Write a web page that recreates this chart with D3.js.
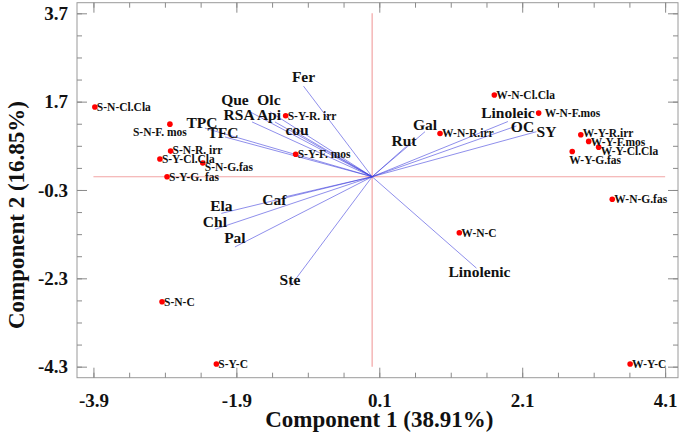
<!DOCTYPE html>
<html>
<head>
<meta charset="utf-8">
<script src="https://cdn.jsdelivr.net/npm/d3@7"></script>
<style>
  body { margin: 0; background: #fff; }
  svg text { font-family: "Liberation Serif", "Times New Roman", serif; font-weight: bold; fill: #111; }
</style>
</head>
<body>
<div id="chart"></div>
<script>
// sample scores
const pointNames = ['S-N-Cl.Cla', 'S-N-F. mos', 'S-N-R. irr', 'S-Y-Cl.Cla', 'S-N-G.fas', 'S-Y-G. fas',
    'S-N-C', 'S-Y-C', 'S-Y-R. irr', 'S-Y-F. mos', 'W-N-Cl.Cla', 'W-N-F.mos', 'W-N-R.irr',
    'W-Y-R.irr', 'W-Y-F.mos', 'W-Y-Cl.Cla', 'W-Y-G.fas', 'W-N-G.fas', 'W-N-C', 'W-Y-C'];
const pointX = [-3.88, -2.83, -2.82, -2.97, -2.37, -2.87, -2.94, -2.18, -1.21, -1.07,
    1.71, 2.33, 0.95, 2.92, 3.03, 3.17, 2.80, 3.36, 1.22, 3.61];
const pointY = [1.58, 1.19, 0.58, 0.40, 0.31, 0.00, -2.83, -4.24, 1.38, 0.51,
    1.85, 1.44, 0.98, 0.95, 0.80, 0.67, 0.57, -0.51, -1.27, -4.24];

// variable loadings (already scaled to score space)
const varNames = ['Fer', 'Que', 'Olc', 'RSA', 'Api', 'cou', 'TPC', 'TFC', 'Rut', 'Gal',
    'Linoleic', 'OC', 'SY', 'Ela', 'Caf', 'Chl', 'Pal', 'Ste', 'Linolenic'];
const varX = [-0.96, -1.71, -1.43, -1.68, -1.36, -1.12, -2.34, -2.06, 0.53, 0.74,
    1.90, 2.02, 2.30, -2.11, -1.20, -2.20, -1.92, -1.15, 1.46];
const varY = [2.05, 1.47, 1.47, 1.24, 1.24, 1.06, 1.10, 0.90, 0.76, 1.02,
    1.25, 1.15, 1.02, -0.83, -0.45, -1.19, -1.59, -2.49, -2.07];

const xTicks = [-3.9, -1.9, 0.1, 2.1, 4.1];
const yTicks = [3.7, 1.7, -0.3, -2.3, -4.3];
const xLabel = 'Component 1 (38.91%)';
const yLabel = 'Component 2 (16.85%)';

// label nudges in pixels (layout only)
const varNudge = {
    'Fer': [0, -4], 'Que': [-15, -7], 'Olc': [-1, -7], 'RSA': [-13, -2], 'Api': [-6, -2],
    'cou': [5, 5], 'TPC': [-3, 0], 'TFC': [-2, 1], 'Rut': [-6, 3], 'Gal': [0, -2],
    'Linoleic': [0, -4], 'OC': [6, 6], 'SY': [10, 5], 'Ela': [0, -2], 'Caf': [-12, 8],
    'Chl': [0, -2], 'Pal': [0, -4], 'Ste': [0, -2], 'Linolenic': [3, 9]
};
const pointNudge = {
    'S-N-F. mos': [-10, 12, 'middle'],
    'S-N-R. irr': [2, 3, 'start'],
    'S-N-G.fas': [2, 7.5, 'start'],
    'W-Y-G.fas': [-3, 12, 'start'],
    'W-N-F.mos': [6, 4, 'start'],
    'W-Y-R.irr': [2, 2, 'start'],
    'W-Y-F.mos': [2, 4.5, 'start'],
    'W-Y-Cl.Cla': [2, 8, 'start']
};

const width = 685, height = 435;
const svg = d3.select('#chart').append('svg')
    .attr('width', width)
    .attr('height', height);

const x = d3.scaleLinear().domain([-4.13, 4.28]).range([77, 678]);
const y = d3.scaleLinear().domain([-4.55, 3.94]).range([377.7, 2.7]);

const minorX = d3.range(-3.9, 4.15, 0.5);
const minorY = d3.range(-4.3, 3.75, 0.5);
const fmt = d => d3.format('.1f')(d).replace('−', '-');

const frameBottom = y.range()[0], frameTop = y.range()[1];
const frameLeft = x.range()[0], frameRight = x.range()[1];

// frame
svg.append('rect')
    .attr('x', frameLeft).attr('y', frameTop)
    .attr('width', frameRight - frameLeft)
    .attr('height', frameBottom - frameTop)
    .attr('fill', 'none').attr('stroke', '#9a9a9a').attr('stroke-width', 1);

function drawAxis(axisFn, scale, transform, values, size, labels) {
    const g = svg.append('g')
        .attr('transform', transform)
        .call(axisFn(scale).tickValues(values).tickSize(-size).tickSizeOuter(0)
            .tickPadding(labels ? 12 : 0)
            .tickFormat(labels ? fmt : ''));
    g.select('.domain').remove();
    g.selectAll('line').attr('stroke', '#8a8a8a');
    return g;
}

drawAxis(d3.axisBottom, x, `translate(0,${frameBottom})`, minorX, 5, false);
drawAxis(d3.axisBottom, x, `translate(0,${frameBottom})`, xTicks, 10, true)
    .selectAll('text').style('font-size', '19px').attr('dy', '0.9em');
drawAxis(d3.axisTop, x, `translate(0,${frameTop})`, minorX, 5, false);
drawAxis(d3.axisTop, x, `translate(0,${frameTop})`, xTicks, 10, false);

drawAxis(d3.axisLeft, y, `translate(${frameLeft},0)`, minorY, 5, false);
drawAxis(d3.axisLeft, y, `translate(${frameLeft},0)`, yTicks, 10, true)
    .selectAll('text').style('font-size', '19px').attr('x', -9);
drawAxis(d3.axisRight, y, `translate(${frameRight},0)`, minorY, 5, false);
drawAxis(d3.axisRight, y, `translate(${frameRight},0)`, yTicks, 10, false);

// reference lines through the origin
svg.append('line')
    .attr('x1', x(xTicks[0])).attr('x2', x(xTicks[xTicks.length - 1]))
    .attr('y1', y(0)).attr('y2', y(0))
    .attr('stroke', '#f2a4a4').attr('stroke-width', 1.2);
svg.append('line')
    .attr('x1', x(0)).attr('x2', x(0))
    .attr('y1', y(yTicks[0])).attr('y2', y(yTicks[yTicks.length - 1]))
    .attr('stroke', '#f2a4a4').attr('stroke-width', 1.2);

// loading vectors
svg.append('g').selectAll('line')
    .data(varNames)
    .enter()
    .append('line')
    .attr('x1', x(0)).attr('y1', y(0))
    .attr('x2', (d, i) => x(varX[i]))
    .attr('y2', (d, i) => y(varY[i]))
    .attr('stroke', '#4040dc')
    .attr('stroke-opacity', 0.65)
    .attr('stroke-width', 0.9);

svg.append('g').selectAll('text')
    .data(varNames)
    .enter()
    .append('text')
    .attr('x', (d, i) => x(varX[i]) + varNudge[d][0])
    .attr('y', (d, i) => y(varY[i]) + varNudge[d][1])
    .attr('text-anchor', 'middle')
    .style('font-size', '15.5px')
    .text(d => d);

// sample points
svg.append('g').selectAll('circle')
    .data(pointNames)
    .enter()
    .append('circle')
    .attr('cx', (d, i) => x(pointX[i]))
    .attr('cy', (d, i) => y(pointY[i]))
    .attr('r', 2.8)
    .attr('fill', '#ff0000');

svg.append('g').selectAll('text')
    .data(pointNames)
    .enter()
    .append('text')
    .attr('x', (d, i) => x(pointX[i]) + (pointNudge[d] ? pointNudge[d][0] : 2))
    .attr('y', (d, i) => y(pointY[i]) + (pointNudge[d] ? pointNudge[d][1] : 4))
    .attr('text-anchor', d => pointNudge[d] ? pointNudge[d][2] : 'start')
    .style('font-size', '11.5px')
    .text(d => d);

// axis titles
svg.append('text')
    .attr('x', x(0.1))
    .attr('y', 427)
    .attr('text-anchor', 'middle')
    .style('font-size', '23px')
    .text(xLabel);

svg.append('text')
    .attr('transform', `translate(24,215) rotate(-90)`)
    .attr('text-anchor', 'middle')
    .style('font-size', '23px')
    .text(yLabel);
</script>
</body>
</html>
